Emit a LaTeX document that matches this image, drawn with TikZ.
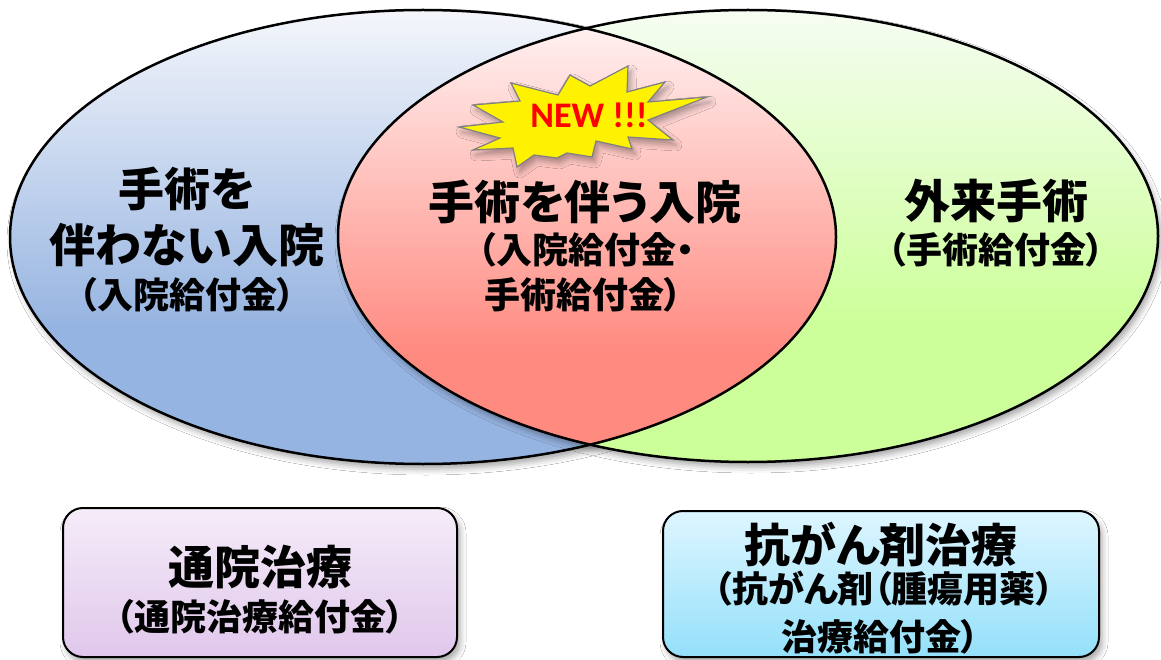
\documentclass[tikz,border=0pt]{standalone}
\usepackage{fontspec}
\newfontfamily\jpfont[RawFeature=+palt]{Noto Sans CJK JP}
\newfontfamily\calfont{Carlito}
\usetikzlibrary{shadows.blur}
\definecolor{bluetop}{RGB}{244,246,251}
\definecolor{bluebot}{RGB}{150,180,225}
\definecolor{greentop}{RGB}{246,253,242}
\definecolor{greenbot}{RGB}{204,255,153}
\definecolor{redtop}{RGB}{255,246,246}
\definecolor{redbot}{RGB}{255,138,128}
\definecolor{ptop}{RGB}{245,236,249}
\definecolor{pbot}{RGB}{224,199,235}
\definecolor{ctop}{RGB}{222,246,255}
\definecolor{cbot}{RGB}{148,224,250}
\definecolor{starline}{RGB}{128,128,128}
\definecolor{newred}{RGB}{255,0,0}
\pgfdeclareverticalshading{blueV}{100bp}{color(0bp)=(bluebot); color(40bp)=(bluebot); color(75bp)=(bluetop); color(100bp)=(bluetop)}
\pgfdeclareverticalshading{greenV}{100bp}{color(0bp)=(greenbot); color(40bp)=(greenbot); color(75bp)=(greentop); color(100bp)=(greentop)}
\pgfdeclareverticalshading{redV}{100bp}{color(0bp)=(redbot); color(37bp)=(redbot); color(75bp)=(redtop); color(100bp)=(redtop)}
\pgfdeclareverticalshading{purpleV}{100bp}{color(0bp)=(pbot); color(25bp)=(pbot); color(75bp)=(ptop); color(100bp)=(ptop)}
\pgfdeclareverticalshading{cyanV}{100bp}{color(0bp)=(cbot); color(25bp)=(cbot); color(75bp)=(ctop); color(100bp)=(ctop)}
\tikzset{
  softshadow/.style={blur shadow={shadow xshift=3pt, shadow yshift=-5pt, shadow blur radius=6pt, shadow opacity=35}},
  outline/.style={draw=black, line width=2.5pt},
  bigtext/.style={font=\jpfont\bfseries\fontsize{46}{50}\selectfont, inner sep=0pt},
  subtext/.style={font=\jpfont\bfseries\fontsize{36}{40}\selectfont, inner sep=0pt},
  infobox/.style={draw=black, line width=2pt, rounded corners=20pt, softshadow},
  burst/.style={fill=yellow, draw=starline, line width=1.2pt, line join=miter, softshadow},
}
\begin{document}
\begin{tikzpicture}[x=1pt, y=-1pt]
\useasboundingbox (0,0) rectangle (1161,660);
\fill[white] (0,0) rectangle (1161,660);
% ellipses
\path[softshadow, shading=blueV] (423,237) ellipse [x radius=413pt, y radius=227pt];
\path[softshadow, shading=greenV] (748,236) ellipse [x radius=410pt, y radius=226pt];
\begin{scope}
  \clip (423,237) ellipse [x radius=413pt, y radius=227pt];
  \path[shading=redV] (748,236) ellipse [x radius=410pt, y radius=226pt];
\end{scope}
\draw[outline] (423,237) ellipse [x radius=413pt, y radius=227pt];
\draw[outline] (748,236) ellipse [x radius=410pt, y radius=226pt];
% starburst
\filldraw[burst] (459,127) -- (503,122) -- (473,105) -- (520,101) -- (511,83) -- (558,95) -- (570,75) -- (590,86) -- (628,66) -- (627,92) -- (665,82) -- (648,102) -- (707,97) -- (648,120) -- (673,140) -- (628,137) -- (632,149) -- (596,141) -- (592,157) -- (567,153) -- (557,158) -- (534,155) -- (517,167) -- (513,148) -- (473,150) -- (500,138) -- cycle;
\node[anchor=base, inner sep=0pt, text=newred, font=\calfont\bfseries\fontsize{36}{40}\selectfont] (new) at (589,128) {NEW !!!};
% left ellipse texts
\node[bigtext] (l1) at (187,189) {手術を};
\node[bigtext] (l2) at (187,245) {伴わない入院};
\node[subtext] (l3) at (187,295) {（入院給付金）};
% middle texts
\node[bigtext] (m1) at (585,202) {手術を伴う入院};
\node[subtext] (m2) at (586,250) {（入院給付金・};
\node[subtext] (m3) at (583,295) {手術給付金）};
% right texts
\node[bigtext] (r1) at (996,201) {外来手術};
\node[subtext] (r2) at (996,250) {（手術給付金）};
% bottom boxes
\node[infobox, shading=purpleV, minimum width=394pt, minimum height=149pt] (boxL) at (260,582.5) {};
\node[infobox, shading=cyanV, minimum width=436pt, minimum height=146pt] (boxR) at (881,584) {};
\node[bigtext] (b1) at (260,567) {通院治療};
\node[subtext] (b2) at (260,617) {（通院治療給付金）};
\node[bigtext] (c1) at (881,545) {抗がん剤治療};
\node[subtext] (c2) at (884,589) {（抗がん剤（腫瘍用薬）};
\node[subtext] (c3) at (880,637) {治療給付金）};
\end{tikzpicture}
\end{document}
